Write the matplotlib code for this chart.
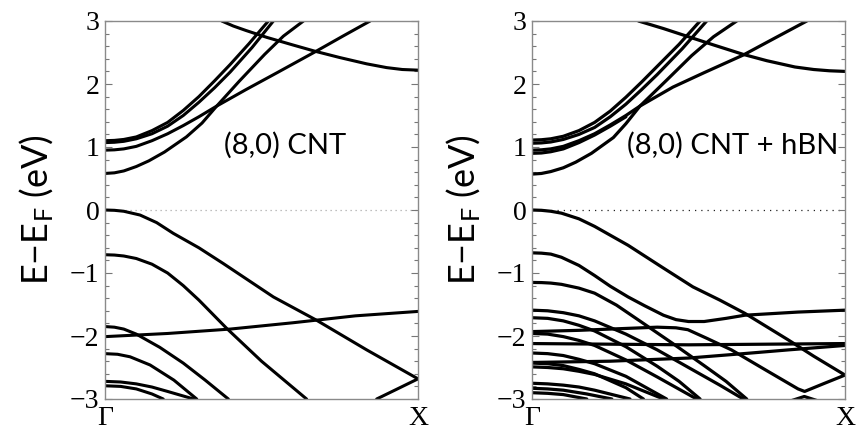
import matplotlib
matplotlib.use("Agg")
import matplotlib.pyplot as plt
from matplotlib.ticker import MultipleLocator

plt.rcParams['mathtext.fontset'] = 'custom'
plt.rcParams['mathtext.rm'] = 'Lato'
plt.rcParams['mathtext.it'] = 'Lato:italic'

# ---------------- data: (8,0) CNT ----------------
cnt_c1_k = [0, 0.03, 0.06, 0.1, 0.14, 0.19, 0.26, 0.31, 0.357, 0.43, 0.51, 0.57, 0.634]
cnt_c1_E = [0.58, 0.59, 0.62, 0.69, 0.78, 0.92, 1.16, 1.38, 1.65, 2.05, 2.47, 2.76, 3.0]
cnt_cA_k = [0, 0.03, 0.06, 0.1, 0.15, 0.2, 0.25, 0.3, 0.35, 0.4, 0.46, 0.522]
cnt_cA_E = [1.10, 1.105, 1.12, 1.16, 1.26, 1.39, 1.58, 1.80, 2.05, 2.31, 2.64, 3.0]
cnt_cB_k = [0, 0.03, 0.06, 0.1, 0.15, 0.2, 0.25, 0.3, 0.35, 0.4, 0.47, 0.538]
cnt_cB_E = [1.07, 1.075, 1.09, 1.13, 1.21, 1.33, 1.50, 1.71, 1.94, 2.19, 2.58, 3.0]
cnt_cC_k = [0, 0.03, 0.06, 0.1, 0.15, 0.2, 0.25, 0.3, 0.357, 0.45, 0.55, 0.671, 0.76, 0.847]
cnt_cC_E = [0.95, 0.955, 0.97, 1.01, 1.10, 1.21, 1.34, 1.48, 1.65, 1.91, 2.18, 2.51, 2.76, 3.0]
cnt_cD_k = [0.373, 0.41, 0.45, 0.517, 0.6, 0.671, 0.75, 0.836, 0.9, 0.95, 1.0]
cnt_cD_E = [3.0, 2.92, 2.85, 2.74, 2.62, 2.52, 2.42, 2.32, 2.26, 2.23, 2.22]

cnt_v1_k = [0, 0.03, 0.06, 0.112, 0.165, 0.218, 0.3, 0.378, 0.538, 0.676, 0.836, 1.0]
cnt_v1_E = [0, -0.005, -0.02, -0.08, -0.20, -0.37, -0.60, -0.85, -1.38, -1.75, -2.22, -2.68]
cnt_v2_k = [0, 0.03, 0.06, 0.1, 0.15, 0.2, 0.25, 0.3, 0.389, 0.5, 0.644]
cnt_v2_E = [-0.71, -0.715, -0.73, -0.77, -0.86, -1.0, -1.20, -1.43, -1.88, -2.40, -3.0]
cnt_flat_k = [0, 0.2, 0.4, 0.6, 0.8, 1.0]
cnt_flat_E = [-2.01, -1.96, -1.89, -1.79, -1.68, -1.61]
cnt_v3_k = [0, 0.03, 0.06, 0.1, 0.175, 0.25, 0.32, 0.394]
cnt_v3_E = [-1.85, -1.86, -1.89, -1.97, -2.18, -2.43, -2.70, -3.0]
cnt_v4_k = [0, 0.04, 0.08, 0.144, 0.22, 0.293]
cnt_v4_E = [-2.28, -2.29, -2.33, -2.46, -2.70, -3.0]
cnt_v5_k = [0, 0.05, 0.1, 0.15, 0.2, 0.283]
cnt_v5_E = [-2.72, -2.73, -2.76, -2.81, -2.88, -3.0]
cnt_v6_k = [0, 0.05, 0.1, 0.15, 0.186]
cnt_v6_E = [-2.79, -2.80, -2.84, -2.92, -3.0]
cnt_v7_k = [0.868, 0.93, 1.0]
cnt_v7_E = [-3.0, -2.85, -2.68]

# ---------------- data: (8,0) CNT + hBN ----------------
hbn_c1_k = [0, 0.03, 0.06, 0.1, 0.14, 0.19, 0.26, 0.30, 0.345, 0.43, 0.51, 0.58, 0.654]
hbn_c1_E = [0.57, 0.58, 0.61, 0.67, 0.76, 0.90, 1.15, 1.37, 1.65, 2.06, 2.45, 2.75, 3.0]
hbn_cA_k = [0, 0.03, 0.06, 0.1, 0.15, 0.2, 0.25, 0.3, 0.35, 0.4, 0.47, 0.537]
hbn_cA_E = [1.11, 1.115, 1.13, 1.17, 1.26, 1.39, 1.57, 1.79, 2.03, 2.28, 2.63, 3.0]
hbn_cB_k = [0, 0.03, 0.06, 0.1, 0.15, 0.2, 0.25, 0.3, 0.35, 0.4, 0.48, 0.558]
hbn_cB_E = [1.06, 1.065, 1.08, 1.12, 1.20, 1.31, 1.48, 1.68, 1.91, 2.15, 2.56, 3.0]
hbn_cC_k = [0, 0.03, 0.06, 0.1, 0.15, 0.2, 0.25, 0.3, 0.345, 0.45, 0.55, 0.675, 0.78, 0.878]
hbn_cC_E = [0.95, 0.955, 0.97, 1.01, 1.10, 1.21, 1.35, 1.50, 1.65, 1.95, 2.18, 2.46, 2.74, 3.0]
hbn_cC2_k = [0, 0.03, 0.06, 0.1, 0.15, 0.2, 0.25, 0.3]
hbn_cC2_E = [0.90, 0.905, 0.925, 0.97, 1.07, 1.19, 1.33, 1.48]
hbn_cD_k = [0.34, 0.38, 0.42, 0.5, 0.58, 0.675, 0.75, 0.84, 0.9, 0.95, 1.0]
hbn_cD_E = [3.0, 2.94, 2.88, 2.75, 2.62, 2.47, 2.37, 2.27, 2.23, 2.21, 2.20]

hbn_v1_k = [0, 0.03, 0.06, 0.094, 0.15, 0.2, 0.307, 0.413, 0.514, 0.6, 0.68, 0.818, 0.9, 1.0]
hbn_v1_E = [0, -0.005, -0.02, -0.05, -0.14, -0.26, -0.56, -0.90, -1.22, -1.43, -1.64, -2.06, -2.32, -2.62]
hbn_v2_k = [0, 0.03, 0.06, 0.094, 0.15, 0.2, 0.25, 0.307, 0.36, 0.42, 0.46, 0.5, 0.55, 0.62, 0.68, 0.85, 1.0]
hbn_v2_E = [-0.68, -0.685, -0.70, -0.75, -0.88, -1.04, -1.21, -1.38, -1.52, -1.67, -1.74, -1.77, -1.77, -1.72, -1.67, -1.62, -1.59]
hbn_v3_k = [0, 0.03, 0.06, 0.094, 0.15, 0.2, 0.27, 0.35, 0.45, 0.55, 0.62, 0.686]
hbn_v3_E = [-1.15, -1.152, -1.16, -1.18, -1.24, -1.32, -1.51, -1.78, -2.12, -2.47, -2.72, -3.0]
hbn_flat_k = [0, 0.15, 0.3, 0.4, 0.46, 0.498, 0.56, 0.637, 0.75, 0.85, 0.871, 0.93, 1.0]
hbn_flat_E = [-1.93, -1.91, -1.88, -1.86, -1.87, -1.90, -2.04, -2.22, -2.55, -2.84, -2.88, -2.76, -2.62]
hbn_h2_k = [0, 0.5, 1.0]
hbn_h2_E = [-2.12, -2.14, -2.12]
hbn_h3_k = [0, 0.25, 0.5, 0.7, 0.82, 1.0]
hbn_h3_E = [-2.42, -2.40, -2.35, -2.27, -2.22, -2.15]
hbn_d1_k = [0, 0.05, 0.1, 0.15, 0.2, 0.3, 0.4, 0.5, 0.6, 0.675]
hbn_d1_E = [-1.59, -1.60, -1.63, -1.68, -1.76, -1.97, -2.22, -2.50, -2.78, -3.0]
hbn_d2_k = [0, 0.05, 0.1, 0.15, 0.2, 0.3, 0.4, 0.47, 0.537]
hbn_d2_E = [-1.71, -1.72, -1.76, -1.83, -1.92, -2.17, -2.48, -2.72, -3.0]
hbn_d3_k = [0, 0.05, 0.1, 0.15, 0.2, 0.3, 0.4, 0.526]
hbn_d3_E = [-1.96, -1.97, -2.01, -2.07, -2.15, -2.38, -2.65, -3.0]
hbn_d4_k = [0, 0.05, 0.1, 0.15, 0.2, 0.3, 0.43]
hbn_d4_E = [-2.27, -2.28, -2.31, -2.37, -2.44, -2.64, -3.0]
hbn_d5_k = [0, 0.05, 0.1, 0.15, 0.2, 0.3, 0.42]
hbn_d5_E = [-2.49, -2.50, -2.52, -2.56, -2.61, -2.76, -3.0]
hbn_d6_k = [0, 0.05, 0.1, 0.15, 0.2, 0.3, 0.356]
hbn_d6_E = [-2.43, -2.44, -2.47, -2.53, -2.60, -2.82, -3.0]
hbn_d7_k = [0, 0.05, 0.1, 0.15, 0.2, 0.313]
hbn_d7_E = [-2.75, -2.76, -2.78, -2.81, -2.86, -3.0]
hbn_d8_k = [0, 0.05, 0.1, 0.175, 0.255]
hbn_d8_E = [-2.83, -2.84, -2.86, -2.92, -3.0]
hbn_d9_k = [0, 0.05, 0.1, 0.175]
hbn_d9_E = [-2.90, -2.91, -2.93, -3.0]
hbn_arc_k = [0.82, 0.87, 0.92]
hbn_arc_E = [-3.04, -2.96, -3.04]

k_labels = ['Γ', 'X']
y_ticks = [-3, -2, -1, 0, 1, 2, 3]
y_ticklabels = ['−3', '−2', '−1', '0', '1', '2', '3']

cnt_bands = [
    (cnt_c1_k, cnt_c1_E), (cnt_cA_k, cnt_cA_E), (cnt_cB_k, cnt_cB_E),
    (cnt_cC_k, cnt_cC_E), (cnt_cD_k, cnt_cD_E),
    (cnt_v1_k, cnt_v1_E), (cnt_v2_k, cnt_v2_E), (cnt_flat_k, cnt_flat_E),
    (cnt_v3_k, cnt_v3_E), (cnt_v4_k, cnt_v4_E), (cnt_v5_k, cnt_v5_E),
    (cnt_v6_k, cnt_v6_E), (cnt_v7_k, cnt_v7_E),
]
hbn_bands = [
    (hbn_c1_k, hbn_c1_E), (hbn_cA_k, hbn_cA_E), (hbn_cB_k, hbn_cB_E),
    (hbn_cC_k, hbn_cC_E), (hbn_cC2_k, hbn_cC2_E), (hbn_cD_k, hbn_cD_E),
    (hbn_v1_k, hbn_v1_E), (hbn_v2_k, hbn_v2_E), (hbn_v3_k, hbn_v3_E),
    (hbn_flat_k, hbn_flat_E), (hbn_h2_k, hbn_h2_E), (hbn_h3_k, hbn_h3_E),
    (hbn_d1_k, hbn_d1_E), (hbn_d2_k, hbn_d2_E), (hbn_d3_k, hbn_d3_E),
    (hbn_d4_k, hbn_d4_E), (hbn_d5_k, hbn_d5_E), (hbn_d6_k, hbn_d6_E),
    (hbn_d7_k, hbn_d7_E), (hbn_d8_k, hbn_d8_E), (hbn_d9_k, hbn_d9_E),
    (hbn_arc_k, hbn_arc_E),
]

fig = plt.figure(figsize=(8.57, 4.33), dpi=100)
W, H = 857, 433
ax1 = fig.add_axes([105 / W, 1 - 399 / H, 313 / W, 378 / H])
ax2 = fig.add_axes([532 / W, 1 - 399 / H, 313 / W, 378 / H])


def style(ax, bands, title, dotcolor, dotstyle, lw, tx):
    for k, E in bands:
        ax.plot(k, E, color='black', lw=lw, solid_capstyle='round',
                solid_joinstyle='round')
    ax.axhline(0, color=dotcolor, lw=0.9, ls=dotstyle, zorder=0)
    ax.set_xlim(0, 1)
    ax.set_ylim(-3, 3)
    ax.set_yticks(y_ticks)
    ax.set_yticklabels(y_ticklabels, fontfamily='Liberation Serif', fontsize=20)
    ax.yaxis.set_minor_locator(MultipleLocator(0.2))
    ax.set_xticks([0, 1])
    ax.set_xticklabels(k_labels, fontfamily='Liberation Serif', fontsize=20)
    ax.tick_params(axis='y', which='both', direction='in', left=True, right=True,
                   color='#777777', width=0.8, pad=4)
    ax.tick_params(axis='y', which='major', length=5)
    ax.tick_params(axis='y', which='minor', length=3)
    ax.tick_params(axis='x', length=0, pad=5)
    for s in ax.spines.values():
        s.set_color('#8a8a8a')
        s.set_linewidth(1.0)
    ax.set_ylabel('E−E$_\\mathrm{F}$ (eV)', fontfamily='Lato', fontsize=26)
    ax.yaxis.set_label_coords(-0.155, 0.5)
    ax.text(tx, 1.02, title, transform=ax.transData, fontfamily='Lato',
            fontsize=21, ha='right', va='center')


style(ax1, cnt_bands, '(8,0) CNT', '#aaaaaa', (0, (1, 3)), 2.2, 0.77)
style(ax2, hbn_bands, '(8,0) CNT + hBN', '#222222', (0, (1, 4)), 2.3, 0.98)

fig.savefig('out.png', dpi=100)
